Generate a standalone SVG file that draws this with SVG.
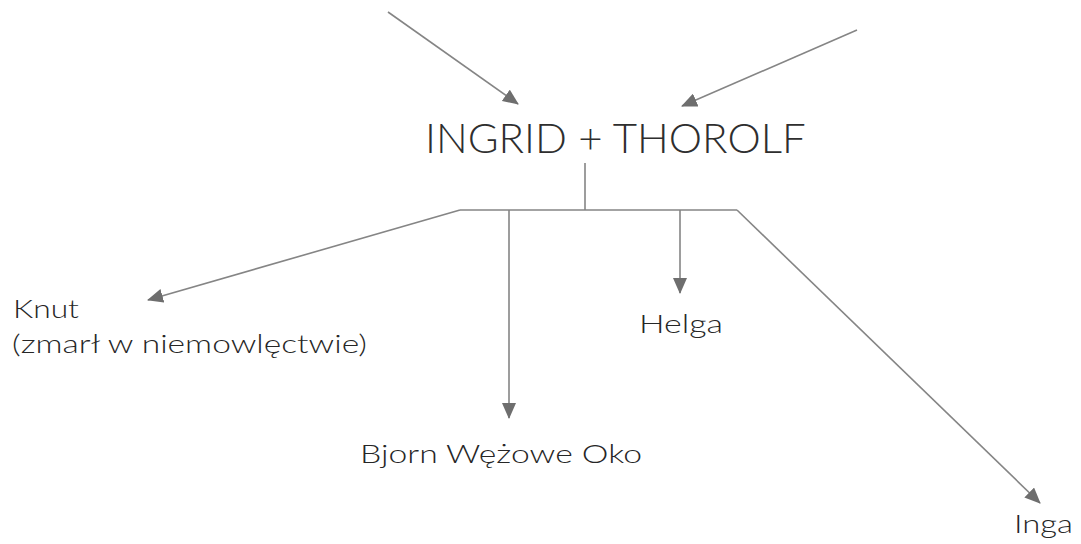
<svg xmlns="http://www.w3.org/2000/svg" width="1081" height="544" viewBox="0 0 1081 544">
  <style>
    .lbl { font-family: Lato, "Open Sans", "Liberation Sans", sans-serif; fill: #2e2e2e; }
    .title { font-size: 42px; font-weight: 300; }
    .name { font-size: 25px; font-weight: 300; fill: #262626; }
    .link { fill: none; stroke: #858585; stroke-width: 1.6; }
  </style>
  <defs>
    <marker id="head" markerUnits="userSpaceOnUse" markerWidth="16" markerHeight="14" refX="15" refY="7" orient="auto">
      <path d="M0,0 L16,7 L0,14 Z" fill="#6e6e6e"/>
    </marker>
  </defs>
  <rect width="1081" height="544" fill="#ffffff"/>

  <g id="connectors">
    <!-- parents into the couple -->
    <line class="link" x1="388" y1="12" x2="518" y2="104" marker-end="url(#head)"/>
    <line class="link" x1="857" y1="30" x2="682" y2="106" marker-end="url(#head)"/>
    <!-- couple down to the children bus -->
    <line class="link" x1="585" y1="163" x2="585" y2="210"/>
    <polyline class="link" points="460,210 737,210"/>
    <!-- children -->
    <line class="link" x1="460" y1="210" x2="148" y2="300" marker-end="url(#head)"/>
    <line class="link" x1="509" y1="210" x2="509" y2="418" marker-end="url(#head)"/>
    <line class="link" x1="680" y1="210" x2="680" y2="293" marker-end="url(#head)"/>
    <line class="link" x1="737" y1="210" x2="1040" y2="503" marker-end="url(#head)"/>
  </g>

  <g id="couple">
    <text class="lbl title" x="425" y="153">INGRID + THOROLF</text>
  </g>
  <g id="knut">
    <text class="lbl name" x="13" y="318" textLength="66" lengthAdjust="spacingAndGlyphs">Knut</text>
    <text class="lbl name" x="12" y="353" textLength="355" lengthAdjust="spacingAndGlyphs">(zmarł w niemowlęctwie)</text>
  </g>
  <g id="bjorn">
    <text class="lbl name" x="360" y="463" textLength="282" lengthAdjust="spacingAndGlyphs">Bjorn Wężowe Oko</text>
  </g>
  <g id="helga">
    <text class="lbl name" x="639" y="333" textLength="84" lengthAdjust="spacingAndGlyphs">Helga</text>
  </g>
  <g id="inga">
    <text class="lbl name" x="1014" y="533" textLength="59" lengthAdjust="spacingAndGlyphs">Inga</text>
  </g>
</svg>
